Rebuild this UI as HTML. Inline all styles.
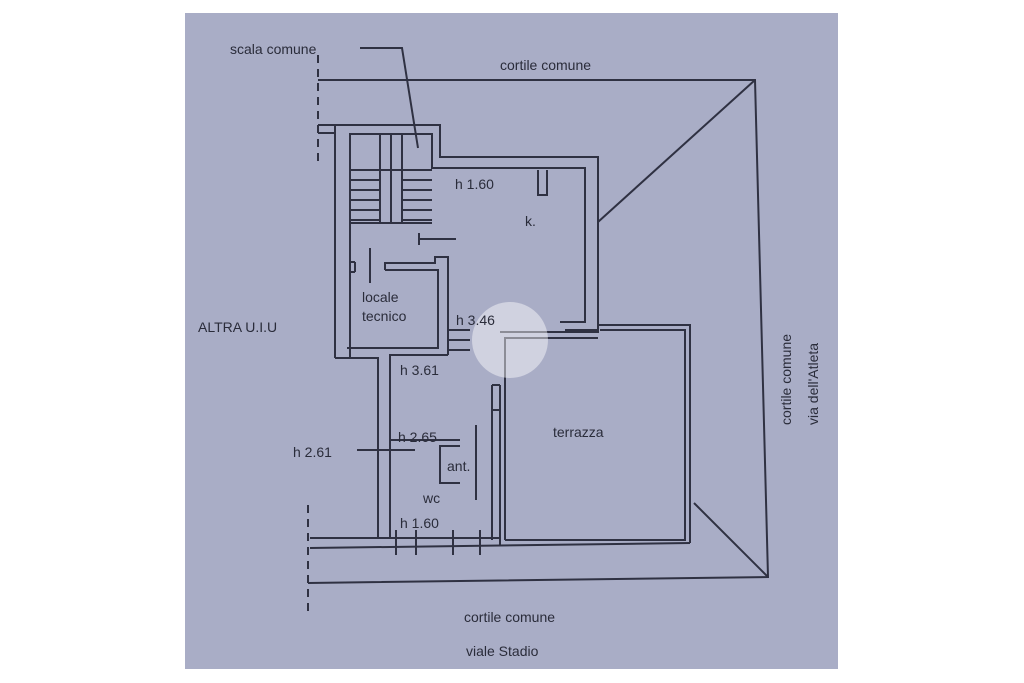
<!DOCTYPE html>
<html><head><meta charset="utf-8"><style>
html,body{margin:0;padding:0;background:#fff;width:1024px;height:683px;overflow:hidden}
svg{position:absolute;left:0;top:0}
text{font-family:"Liberation Sans",sans-serif;fill:#2a2c3a;font-size:14px}
</style></head><body>
<svg width="1024" height="683" viewBox="0 0 1024 683">
<rect x="185" y="13" width="653" height="656" fill="#a9adc6"/>
<g stroke="#2f3142" stroke-width="2" fill="none">
<!-- courtyard boundary -->
<polyline points="318,80 755,80 768,577 308,583"/>
<line x1="755" y1="80" x2="598" y2="222"/>
<line x1="768" y1="577" x2="694" y2="503"/>
<line x1="318" y1="55" x2="318" y2="165" stroke-dasharray="8,6"/>
<line x1="308" y1="505" x2="308" y2="615" stroke-dasharray="8,6"/>
<!-- top wall from left -->
<line x1="318" y1="125" x2="335" y2="125"/>
<line x1="318" y1="133" x2="335" y2="133"/>
<!-- stair block -->
<polyline points="335,358 335,125 440,125 440,157 598,157 598,330 565,330"/>
<polyline points="350,358 350,134 432,134 432,168 445,168"/>
<polyline points="445,168 585,168 585,322 560,322"/>
<!-- stairs -->
<line x1="350" y1="170" x2="380" y2="170"/><line x1="350" y1="180" x2="380" y2="180"/>
<line x1="350" y1="190" x2="380" y2="190"/><line x1="350" y1="200" x2="380" y2="200"/>
<line x1="350" y1="210" x2="380" y2="210"/><line x1="350" y1="220" x2="380" y2="220"/>
<line x1="402" y1="170" x2="432" y2="170"/><line x1="402" y1="180" x2="432" y2="180"/>
<line x1="402" y1="190" x2="432" y2="190"/><line x1="402" y1="200" x2="432" y2="200"/>
<line x1="402" y1="210" x2="432" y2="210"/><line x1="402" y1="220" x2="432" y2="220"/>
<line x1="380" y1="134" x2="380" y2="222"/><line x1="391" y1="134" x2="391" y2="222"/>
<line x1="402" y1="134" x2="402" y2="222"/>
<line x1="380" y1="170" x2="402" y2="170"/>
<line x1="350" y1="223" x2="432" y2="223"/>
<!-- chimney -->
<polyline points="538,170 538,195 547,195 547,170"/>
<!-- door -->
<line x1="419" y1="233" x2="419" y2="245"/><line x1="419" y1="239" x2="456" y2="239"/>
<!-- locale tecnico -->
<polyline points="385,270 385,263 435,263 435,257 448,257 448,355"/>
<polyline points="385,270 438,270 438,348 347,348"/>
<line x1="370" y1="248" x2="370" y2="283"/>
<line x1="350" y1="262" x2="355" y2="262"/><line x1="355" y1="262" x2="355" y2="272"/><line x1="355" y1="272" x2="350" y2="272"/>
<!-- lower part -->
<polyline points="335,358 378,358 378,538"/>
<polyline points="448,355 390,355 390,538"/>
<line x1="448" y1="330" x2="470" y2="330"/><line x1="448" y1="340" x2="470" y2="340"/><line x1="448" y1="350" x2="470" y2="350"/>
<!-- right walls of wc -->
<line x1="492" y1="385" x2="492" y2="540"/><line x1="500" y1="385" x2="500" y2="545"/>
<line x1="492" y1="385" x2="500" y2="385"/><line x1="492" y1="410" x2="500" y2="410"/>
<!-- internal ant -->
<line x1="390" y1="440" x2="460" y2="440"/>
<polyline points="460,446 440,446 440,483 460,483"/>
<line x1="476" y1="425" x2="476" y2="500"/>
<line x1="357" y1="450" x2="415" y2="450"/>
<!-- bottom wall -->
<line x1="310" y1="538" x2="500" y2="538"/>
<line x1="310" y1="548" x2="690" y2="543"/>
<line x1="396" y1="530" x2="396" y2="555"/><line x1="416" y1="530" x2="416" y2="555"/>
<line x1="453" y1="530" x2="453" y2="555"/><line x1="480" y1="530" x2="480" y2="555"/>
<!-- terrazza -->
<polyline points="500,332 598,332 598,325 690,325 690,543"/>
<polyline points="505,540 505,338 598,338"/>
<polyline points="505,540 685,540 685,330 600,330"/>
<!-- scala comune leader -->
<polyline points="360,48 402,48 418,148"/>
</g>
<circle cx="510" cy="340" r="38" fill="#ffffff" fill-opacity="0.45"/>
<text x="230" y="54" font-size="13">scala comune</text>
<text x="500" y="70">cortile comune</text>
<text x="455" y="189">h 1.60</text>
<text x="525" y="226">k.</text>
<text x="362" y="302">locale</text>
<text x="362" y="321">tecnico</text>
<text x="456" y="325">h 3.46</text>
<text x="198" y="332">ALTRA U.I.U</text>
<text x="400" y="375">h 3.61</text>
<text x="398" y="442">h 2.65</text>
<text x="293" y="457">h 2.61</text>
<text x="447" y="471">ant.</text>
<text x="553" y="437">terrazza</text>
<text x="423" y="503">wc</text>
<text x="400" y="528">h 1.60</text>
<text x="464" y="622">cortile comune</text>
<text x="466" y="656">viale Stadio</text>
<text transform="translate(791,425) rotate(-90)" font-size="13">cortile comune</text>
<text transform="translate(818,425) rotate(-90)" font-size="13">via dell'Atleta</text>
</svg>
</body></html>
